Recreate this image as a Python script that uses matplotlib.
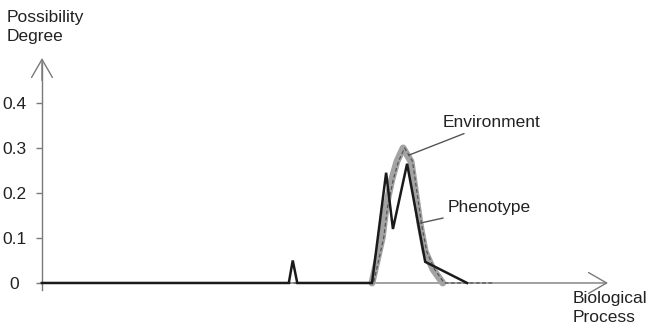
import matplotlib
matplotlib.use("Agg")
import matplotlib.pyplot as plt
from matplotlib.transforms import offset_copy

plt.rcParams["font.family"] = ["Liberation Sans", "DejaVu Sans"]

# Biological process axis (arbitrary units 0..100) and possibility degrees
env_x = [0, 58.3, 60.1, 60.8, 61.8, 62.7, 63.8, 65.2, 66.8, 67.7, 69.1, 70.8, 79.7]
env_y = [0, 0, 0.10, 0.17, 0.23, 0.27, 0.30, 0.27, 0.13, 0.07, 0.03, 0.0, 0.0]

phen_x = [0, 43.6, 44.3, 45.1, 58.3, 60.8, 62.0, 64.5, 67.7, 75.1]
phen_y = [0, 0, 0.05, 0, 0, 0.245, 0.12, 0.265, 0.047, 0]

y_ticks = [0, 0.1, 0.2, 0.3, 0.4]
y_tick_labels = ["0", "0.1", "0.2", "0.3", "0.4"]

axis_gray = "#7a7a7a"
text_col = "#222222"
fs = 12.5

fig = plt.figure(figsize=(6.49, 3.35), dpi=100)
ax = fig.add_axes([0, 0, 1, 1])
ax.set_xlim(-7.42, 107.24)
ax.set_ylim(-0.1156, 0.6289)
ax.patch.set_alpha(0)

for s in ["top", "right", "bottom"]:
    ax.spines[s].set_visible(False)
ax.spines["left"].set_position(("data", 0))
ax.spines["left"].set_bounds(-0.015, 0.49)
ax.spines["left"].set_color(axis_gray)
ax.spines["left"].set_linewidth(1.0)

ax.set_xticks([])
ax.set_yticks(y_ticks)
ax.set_yticklabels(y_tick_labels)
ax.tick_params(axis="y", direction="out", length=4, width=1, color=axis_gray,
               labelsize=fs, labelcolor=text_col, pad=16)
for lab in ax.get_yticklabels():
    lab.set_horizontalalignment("center")

# axis arrows (open chevrons)
arrow = dict(arrowstyle="->,head_length=13,head_width=7.5", color=axis_gray,
             lw=1.0, mutation_scale=1, shrinkA=0, shrinkB=0)
ax.annotate("", xy=(0, 0.5), xytext=(0, 0.45), arrowprops=arrow)
ax.annotate("", xy=(100, 0), xytext=(-0.3, 0), arrowprops=arrow)

# Environment: gray band over the non-zero part, dashed outline on its right edge
band = [i for i, v in enumerate(env_y) if v > 0]
i0, i1 = band[0] - 1, band[-1] + 1
ax.plot(env_x[i0:i1 + 1], env_y[i0:i1 + 1], color="#a3a3a3", lw=5.0,
        solid_joinstyle="round", solid_capstyle="round", zorder=3)
edge = offset_copy(ax.transData, fig=fig, x=1.5, y=0, units="dots")
ax.plot(env_x, env_y, color="#555555", lw=0.9, ls=(0, (3, 2)), zorder=4,
        transform=edge)

# Phenotype: solid black
ax.plot(phen_x, phen_y, color="#1a1a1a", lw=1.8, solid_joinstyle="miter", zorder=5)

# labels with leader lines
ax.annotate("Environment", xy=(64.8, 0.284), xytext=(70.8, 0.356),
            fontsize=fs, color=text_col, va="center", ha="left",
            arrowprops=dict(arrowstyle="-", color="#555555", lw=1.0,
                            shrinkA=1, shrinkB=0))
ax.annotate("Phenotype", xy=(66.8, 0.133), xytext=(71.6, 0.167),
            fontsize=fs, color=text_col, va="center", ha="left",
            arrowprops=dict(arrowstyle="-", color="#555555", lw=1.0,
                            shrinkA=1, shrinkB=0))

ax.text(-6.2, 0.606, "Possibility\nDegree", fontsize=fs, color=text_col,
        va="top", ha="left", linespacing=1.3)
ax.text(93.8, -0.017, "Biological\nProcess", fontsize=fs, color=text_col,
        va="top", ha="left", linespacing=1.35)

fig.savefig("out.png", dpi=100)
